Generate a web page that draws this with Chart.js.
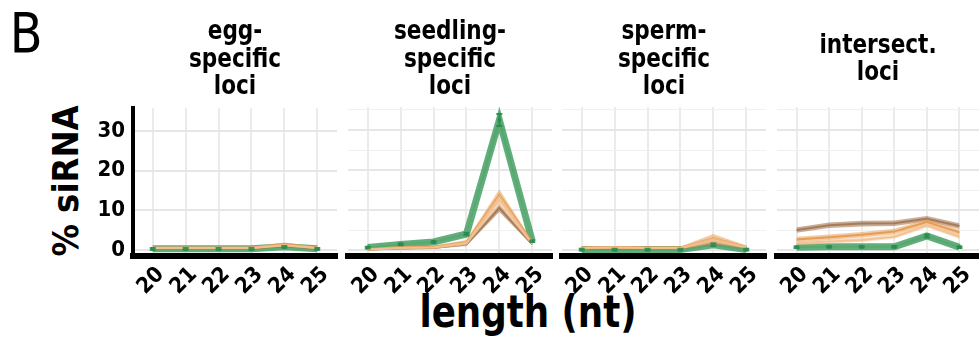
<!DOCTYPE html>
<html>
<head>
<meta charset="utf-8">
<script src="https://cdn.jsdelivr.net/npm/chart.js@4.4.1/dist/chart.umd.min.js"></script>
<style>
  body { margin: 0; width: 979px; height: 341px; overflow: hidden; background: #fff; position: relative;
         font-family: "DejaVu Sans Condensed", "Liberation Sans", sans-serif; }
  canvas { position: absolute; }
  .strip { position: absolute; top: 12px; height: 92px; width: 204px; display: flex; align-items: center;
           justify-content: center; text-align: center; font-weight: bold; font-size: 24px; line-height: 25px; }
  .strip span { display: inline-block; transform: scaleY(1.1); }
  #panelB { position: absolute; left: 9px; top: 0px; font-size: 56px; transform: scaleX(0.95); }
  #ytitle { position: absolute; left: 65px; top: 181px; transform: translate(-50%, -50%) rotate(-90deg);
            font-weight: bold; font-size: 36px; white-space: nowrap; }
  #xtitle { position: absolute; left: 528px; top: 312px; transform: translate(-50%, -50%) scaleX(0.9);
            font-weight: bold; font-size: 44px; line-height: 44px; white-space: nowrap; }
</style>
</head>
<body>
<div id="panelB">B</div>
<div id="ytitle">% siRNA</div>
<div id="xtitle">length (nt)</div>

<script>
const lengths = [20, 21, 22, 23, 24, 25];
const yLabels = [0, 10, 20, 30];
const panelTitles = [
  ['egg-', 'specific', 'loci'],
  ['seedling-', 'specific', 'loci'],
  ['sperm-', 'specific', 'loci'],
  ['intersect.', 'loci']
];

// egg-specific loci
const eggGreen = [0.3, 0.3, 0.3, 0.3, 0.8, 0.3];
const eggGreenSd = [0.2, 0.2, 0.2, 0.2, 0.2, 0.2];
const eggOrange = [0.6, 0.6, 0.6, 0.6, 1.5, 0.6];
const eggOrangeSd = [0.3, 0.3, 0.3, 0.3, 0.4, 0.3];
const eggTan = [0.5, 0.5, 0.5, 0.5, 1.2, 0.5];
const eggTanSd = [0.3, 0.3, 0.3, 0.3, 0.3, 0.3];
const eggBrown = [0.4, 0.4, 0.4, 0.4, 1.0, 0.4];
const eggBrownSd = [0.2, 0.2, 0.2, 0.2, 0.3, 0.2];

// seedling-specific loci
const seedGreen = [0.6, 1.4, 2.0, 4.0, 32.5, 2.2];
const seedGreenSd = [0.2, 0.2, 0.2, 0.3, 1.5, 0.2];
const seedOrange = [0.2, 0.7, 0.8, 2.0, 13.8, 1.9];
const seedOrangeSd = [0.3, 0.3, 0.3, 0.5, 1.4, 0.4];
const seedTan = [0.1, 0.5, 0.6, 1.7, 12.5, 1.6];
const seedTanSd = [0.3, 0.3, 0.3, 0.5, 1.4, 0.4];
const seedBrown = [0.1, 0.4, 0.5, 1.4, 10.5, 1.4];
const seedBrownSd = [0.2, 0.2, 0.2, 0.4, 1.0, 0.3];

// sperm-specific loci
const spermGreen = [0.1, 0.1, 0.1, 0.1, 1.3, 0.1];
const spermGreenSd = [0.2, 0.2, 0.2, 0.2, 0.3, 0.2];
const spermOrange = [0.6, 0.7, 0.6, 0.6, 3.0, 0.8];
const spermOrangeSd = [0.3, 0.3, 0.3, 0.3, 1.0, 0.3];
const spermTan = [0.5, 0.6, 0.5, 0.5, 2.4, 0.7];
const spermTanSd = [0.3, 0.3, 0.3, 0.3, 0.8, 0.3];
const spermBrown = [0.4, 0.5, 0.4, 0.4, 2.0, 0.6];
const spermBrownSd = [0.2, 0.2, 0.2, 0.2, 0.6, 0.2];

// intersect. loci
const interGreen = [0.7, 0.8, 0.8, 0.8, 3.5, 0.7];
const interGreenSd = [0.2, 0.2, 0.2, 0.2, 0.4, 0.2];
const interOrange = [2.6, 3.2, 3.8, 4.6, 7.0, 4.4];
const interOrangeSd = [0.7, 0.7, 0.7, 0.7, 0.7, 0.7];
const interTan = [1.7, 2.1, 2.5, 3.3, 6.2, 3.3];
const interTanSd = [0.5, 0.5, 0.5, 0.5, 0.6, 0.5];
const interBrown = [5.0, 6.2, 6.6, 6.7, 7.8, 6.0];
const interBrownSd = [0.7, 0.7, 0.7, 0.7, 0.7, 0.7];

const panels = [
  [eggTan, eggTanSd, eggOrange, eggOrangeSd, eggBrown, eggBrownSd, eggGreen, eggGreenSd],
  [seedTan, seedTanSd, seedOrange, seedOrangeSd, seedBrown, seedBrownSd, seedGreen, seedGreenSd],
  [spermTan, spermTanSd, spermOrange, spermOrangeSd, spermBrown, spermBrownSd, spermGreen, spermGreenSd],
  [interTan, interTanSd, interOrange, interOrangeSd, interBrown, interBrownSd, interGreen, interGreenSd]
];

const styles = [
  { line: 'rgba(240,190,140,0.9)', band: 'rgba(242,196,150,0.55)' },  // tan
  { line: 'rgba(228,140,60,0.9)',  band: 'rgba(232,160,90,0.55)' },   // orange
  { line: 'rgba(160,115,75,0.9)',  band: 'rgba(165,120,85,0.6)' },    // brown
  { line: 'rgba(70,160,100,0.85)', band: 'rgba(70,160,100,0.45)' }    // green
];

const panelLeft = [133, 348, 562, 777];
const panelWidth = [204, 204, 204, 202];
const areaTop = 107, areaHeight = 149, xAxisH = 60, padTop = 20;

Chart.defaults.font.family = '"DejaVu Sans Condensed", "Liberation Sans", sans-serif';
Chart.defaults.color = '#000';

const errorBars = {
  id: 'errorBars',
  afterDatasetsDraw(chart, args, opts) {
    const { ctx, scales: { x, y } } = chart;
    ctx.save();
    ctx.strokeStyle = opts.color;
    ctx.lineWidth = 2;
    opts.mean.forEach((m, i) => {
      const px = x.getPixelForValue(lengths[i]);
      const top = y.getPixelForValue(m + opts.sd[i]);
      const bot = y.getPixelForValue(m - opts.sd[i]);
      ctx.beginPath();
      ctx.moveTo(px, top); ctx.lineTo(px, bot);
      ctx.moveTo(px - 3, top); ctx.lineTo(px + 3, top);
      ctx.moveTo(px - 3, bot); ctx.lineTo(px + 3, bot);
      ctx.stroke();
    });
    ctx.restore();
  }
};

panels.forEach((series, p) => {
  const first = p === 0;
  const padL = first ? 70 : 30;
  const padR = 15;
  const canvas = document.createElement('canvas');
  canvas.width = padL + panelWidth[p] + padR;
  canvas.height = padTop + areaHeight + xAxisH;
  canvas.style.left = (panelLeft[p] - padL) + 'px';
  canvas.style.top = (areaTop - padTop) + 'px';
  document.body.appendChild(canvas);

  const strip = document.createElement('div');
  strip.className = 'strip';
  strip.style.left = panelLeft[p] + 'px';
  strip.style.width = panelWidth[p] + 'px';
  strip.innerHTML = '<span>' + panelTitles[p].join('<br>') + '</span>';
  document.body.appendChild(strip);

  const datasets = [];
  for (let s = 0; s < 4; s++) {
    const mean = series[s * 2], sd = series[s * 2 + 1];
    const st = styles[s];
    datasets.push({
      data: lengths.map((l, i) => ({ x: l, y: mean[i] - sd[i] })),
      borderWidth: 0, pointRadius: 0, fill: false
    });
    datasets.push({
      data: lengths.map((l, i) => ({ x: l, y: mean[i] + sd[i] })),
      borderWidth: 0, pointRadius: 0, fill: '-1', backgroundColor: st.band
    });
    const green = s === 3;
    datasets.push({
      data: lengths.map((l, i) => ({ x: l, y: mean[i] })),
      borderColor: st.line, borderWidth: green ? 7 : 2, fill: false,
      pointRadius: green ? 2.5 : 0, pointStyle: 'rect',
      pointBackgroundColor: '#2a8450', pointBorderWidth: 0
    });
  }

  new Chart(canvas, {
    type: 'line',
    data: { datasets },
    plugins: [errorBars],
    options: {
      responsive: false,
      animation: false,
      elements: { line: { tension: 0 } },
      layout: { padding: { left: first ? 0 : padL, right: padR, top: padTop, bottom: 0 } },
      plugins: {
        legend: { display: false },
        tooltip: { enabled: false },
        errorBars: { mean: series[6], sd: series[7], color: 'rgba(40,140,80,0.9)' }
      },
      scales: {
        x: {
          type: 'linear', min: 19.4, max: 25.6,
          afterFit: s => { s.height = xAxisH; },
          grid: { color: '#ebebeb', lineWidth: 2, drawTicks: false },
          border: { display: true, color: '#000', width: 6 },
          ticks: {
            stepSize: 1, includeBounds: false, autoSkip: false,
            minRotation: 45, maxRotation: 45, padding: 6, labelOffset: 8,
            font: { size: 22, weight: 'bold' },
            callback: v => lengths.includes(v) ? String(v) : ''
          }
        },
        y: {
          min: -1.5, max: 35.75,
          afterFit: s => { s.width = first ? padL : 0; },
          grid: {
            drawTicks: false,
            color: c => c.tick && c.tick.value % 10 === 0 ? '#e6e6e6' : '#f0f0f0',
            lineWidth: c => c.tick && c.tick.value % 10 === 0 ? 2 : 1
          },
          border: first ? { display: true, color: '#000', width: 4 } : { display: false },
          ticks: {
            display: first, stepSize: 5, includeBounds: false, padding: 8,
            font: { size: 22, weight: 'bold' },
            callback: v => yLabels.includes(v) ? String(v) : ''
          }
        }
      }
    }
  });
});
</script>
</body>
</html>
